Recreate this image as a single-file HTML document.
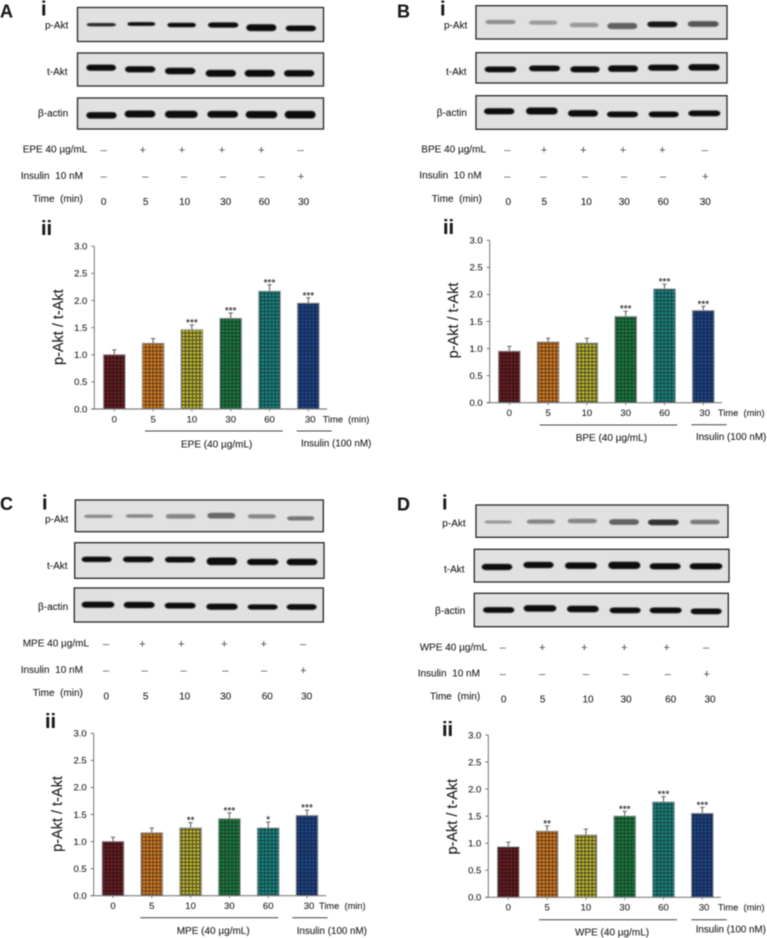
<!DOCTYPE html>
<html lang="en">
<head>
<meta charset="utf-8">
<title>p-Akt / t-Akt western blots and densitometry</title>
<style>
html,body{margin:0;padding:0;background:#fff;}
body{width:767px;height:938px;overflow:hidden;}
svg{display:block;filter:blur(0.4px);}
text{font-family:"Liberation Sans",Arial,sans-serif;fill:#262626;stroke:#262626;stroke-width:0.12;font-size:10px;white-space:pre;}
.letter{font-size:18px;font-weight:bold;fill:#1a1a1a;}
.num{font-size:20px;font-weight:bold;fill:#1a1a1a;}
.m{font-size:11px;fill:#555;stroke:#555;text-anchor:middle;}
.d{font-size:10px;fill:#333;text-anchor:middle;}
.t{text-anchor:middle;}
.tl{font-size:9.3px;}
.blot{fill:#e1e1e1;stroke:#333;stroke-width:1.4;}
.ul{stroke:#444;stroke-width:1;}
</style>
</head>
<body>
<svg id="fig" xmlns="http://www.w3.org/2000/svg" width="767" height="938" viewBox="0 0 767 938">
<defs>
<filter id="soft" x="-20%" y="-60%" width="140%" height="220%"><feGaussianBlur stdDeviation="0.6"/></filter>
<pattern id="hatch-0" width="3.6" height="3.6" patternUnits="userSpaceOnUse"><rect width="3.6" height="3.6" fill="#861a20"/><path d="M1.8 0V3.6M0 1.8H3.6" stroke="#2a181a" stroke-width="1.3"/></pattern>
<pattern id="hatch-1" width="3.6" height="3.6" patternUnits="userSpaceOnUse"><rect width="3.6" height="3.6" fill="#e8841e"/><path d="M1.8 0V3.6M0 1.8H3.6" stroke="#6a4420" stroke-width="1.3"/></pattern>
<pattern id="hatch-2" width="3.6" height="3.6" patternUnits="userSpaceOnUse"><rect width="3.6" height="3.6" fill="#d0ca2a"/><path d="M1.8 0V3.6M0 1.8H3.6" stroke="#55532a" stroke-width="1.3"/></pattern>
<pattern id="hatch-3" width="3.6" height="3.6" patternUnits="userSpaceOnUse"><rect width="3.6" height="3.6" fill="#0e8c3e"/><path d="M1.8 0V3.6M0 1.8H3.6" stroke="#20402e" stroke-width="1.3"/></pattern>
<pattern id="hatch-4" width="3.6" height="3.6" patternUnits="userSpaceOnUse"><rect width="3.6" height="3.6" fill="#0e9684"/><path d="M1.8 0V3.6M0 1.8H3.6" stroke="#1e444c" stroke-width="1.3"/></pattern>
<pattern id="hatch-5" width="3.6" height="3.6" patternUnits="userSpaceOnUse"><rect width="3.6" height="3.6" fill="#164e9e"/><path d="M1.8 0V3.6M0 1.8H3.6" stroke="#1c2848" stroke-width="1.3"/></pattern>
</defs>
<rect width="767" height="938" fill="#fff"/>

<!-- Panel A -->
<g>
<text class="letter" x="0" y="17.3">A</text>
<text class="num" x="41" y="15.7">i</text>
<rect class="blot" x="77.5" y="7.5" width="246" height="34"/>
<rect class="blot" x="77.5" y="53" width="246" height="33"/>
<rect class="blot" x="77.5" y="98" width="246" height="31"/>
<g id="bands-a"></g>
<text x="45" y="28.7">p-Akt</text>
<text x="47" y="75">t-Akt</text>
<text x="38" y="116.7">β-actin</text>
<text x="22.7" y="152.7">EPE 40 µg/mL</text>
<text x="20.7" y="179">Insulin  10 nM</text>
<text x="32.7" y="202">Time  (min)</text>
<g>
<text class="m" x="103.7" y="153.5">–</text><text class="m" x="142.7" y="153.5">+</text><text class="m" x="182" y="153.5">+</text><text class="m" x="222" y="153.5">+</text><text class="m" x="261.3" y="153.5">+</text><text class="m" x="300.7" y="153.5">–</text>
</g>
<g>
<text class="m" x="103.7" y="180">–</text><text class="m" x="145.3" y="180">–</text><text class="m" x="184" y="180">–</text><text class="m" x="223" y="180">–</text><text class="m" x="261.7" y="180">–</text><text class="m" x="301" y="180">+</text>
</g>
<g>
<text class="t" x="103.7" y="205">0</text><text class="t" x="145.7" y="205">5</text><text class="t" x="184.7" y="205">10</text><text class="t" x="225.7" y="205">30</text><text class="t" x="264.3" y="205">60</text><text class="t" x="303.7" y="205">30</text>
</g>
<text class="num" x="41" y="235">ii</text>
</g>

<!-- Panel B -->
<g>
<text class="letter" x="397" y="17.3">B</text>
<text class="num" x="440" y="15.3">i</text>
<rect class="blot" x="476" y="5.7" width="251" height="33.3"/>
<rect class="blot" x="476" y="52.7" width="251" height="30.3"/>
<rect class="blot" x="476" y="95.7" width="251" height="33.6"/>
<g id="bands-b"></g>
<text x="444" y="28.7">p-Akt</text>
<text x="446" y="75">t-Akt</text>
<text x="436.7" y="116">β-actin</text>
<text x="421.3" y="152.7">BPE 40 µg/mL</text>
<text x="419.3" y="178.3">Insulin  10 nM</text>
<text x="431.7" y="202">Time  (min)</text>
<g>
<text class="m" x="507.3" y="153.5">–</text><text class="m" x="544" y="153.5">+</text><text class="m" x="583.3" y="153.5">+</text><text class="m" x="623" y="153.5">+</text><text class="m" x="662.3" y="153.5">+</text><text class="m" x="704.7" y="153.5">–</text>
</g>
<g>
<text class="m" x="507.3" y="180">–</text><text class="m" x="543.3" y="180">–</text><text class="m" x="585" y="180">–</text><text class="m" x="624" y="180">–</text><text class="m" x="663" y="180">–</text><text class="m" x="705.3" y="180">+</text>
</g>
<g>
<text class="t" x="508.3" y="205">0</text><text class="t" x="544.3" y="205">5</text><text class="t" x="586.3" y="205">10</text><text class="t" x="624.3" y="205">30</text><text class="t" x="663.3" y="205">60</text><text class="t" x="705.3" y="205">30</text>
</g>
<text class="num" x="443" y="234">ii</text>
</g>

<!-- Panel C -->
<g>
<text class="letter" x="0" y="510">C</text>
<text class="num" x="42" y="509.3">i</text>
<rect class="blot" x="75.3" y="500" width="248" height="31.7"/>
<rect class="blot" x="74.7" y="542.7" width="249.3" height="35.6"/>
<rect class="blot" x="74.3" y="588" width="249" height="34"/>
<g id="bands-c"></g>
<text x="45" y="522.7">p-Akt</text>
<text x="47" y="569">t-Akt</text>
<text x="38" y="610">β-actin</text>
<text x="22.7" y="646.7">MPE 40 µg/mL</text>
<text x="20.7" y="673">Insulin  10 nM</text>
<text x="32.7" y="696">Time  (min)</text>
<g>
<text class="m" x="106" y="647.5">–</text><text class="m" x="142.3" y="647.5">+</text><text class="m" x="181.3" y="647.5">+</text><text class="m" x="224.3" y="647.5">+</text><text class="m" x="263.7" y="647.5">+</text><text class="m" x="303" y="647.5">–</text>
</g>
<g>
<text class="m" x="106" y="674">–</text><text class="m" x="144.7" y="674">–</text><text class="m" x="183.7" y="674">–</text><text class="m" x="225.3" y="674">–</text><text class="m" x="264" y="674">–</text><text class="m" x="303.3" y="674">+</text>
</g>
<g>
<text class="t" x="106.3" y="699.3">0</text><text class="t" x="145.7" y="699.3">5</text><text class="t" x="184.7" y="699.3">10</text><text class="t" x="225.7" y="699.3">30</text><text class="t" x="267.3" y="699.3">60</text><text class="t" x="306.7" y="699.3">30</text>
</g>
<text class="num" x="45" y="728">ii</text>
</g>

<!-- Panel D -->
<g>
<text class="letter" x="397" y="510.7">D</text>
<text class="num" x="442" y="509.3">i</text>
<rect class="blot" x="476" y="505" width="252" height="32.3"/>
<rect class="blot" x="474.3" y="549.3" width="254.7" height="32.7"/>
<rect class="blot" x="474.3" y="593.3" width="254" height="33.4"/>
<g id="bands-d"></g>
<text x="442.3" y="526.3">p-Akt</text>
<text x="444" y="572.3">t-Akt</text>
<text x="435" y="614">β-actin</text>
<text x="419.7" y="650.3">WPE 40 µg/mL</text>
<text x="417.7" y="676.7">Insulin  10 nM</text>
<text x="430" y="699.7">Time  (min)</text>
<g>
<text class="m" x="502.7" y="651">–</text><text class="m" x="542.3" y="651">+</text><text class="m" x="584.3" y="651">+</text><text class="m" x="624.3" y="651">+</text><text class="m" x="666.7" y="651">+</text><text class="m" x="706" y="651">–</text>
</g>
<g>
<text class="m" x="502.7" y="677.5">–</text><text class="m" x="542" y="677.5">–</text><text class="m" x="586" y="677.5">–</text><text class="m" x="625.7" y="677.5">–</text><text class="m" x="667.7" y="677.5">–</text><text class="m" x="706.7" y="677.5">+</text>
</g>
<g>
<text class="t" x="503.7" y="702.7">0</text><text class="t" x="542.7" y="702.7">5</text><text class="t" x="588" y="702.7">10</text><text class="t" x="626" y="702.7">30</text><text class="t" x="670.7" y="702.7">60</text><text class="t" x="710" y="702.7">30</text>
</g>
<text class="num" x="442" y="736">ii</text>
</g>

<!-- Chart annotations -->
<g>
<line class="ul" x1="145" y1="431" x2="282.7" y2="431"/>
<line class="ul" x1="296.7" y1="431" x2="331.7" y2="431"/>
<text x="181" y="447.3">EPE (40 µg/mL)</text>
<text x="301" y="446.3" style="font-size:9.8px">Insulin (100 nM)</text>
<text class="tl" x="322.7" y="422.3">Time  (min)</text>
</g>
<g>
<line class="ul" x1="539.7" y1="425" x2="677.3" y2="425"/>
<line class="ul" x1="691.3" y1="424.7" x2="726.7" y2="424.7"/>
<text x="575.7" y="441">BPE (40 µg/mL)</text>
<text x="696" y="440" style="font-size:9.8px">Insulin (100 nM)</text>
<text class="tl" x="718" y="416">Time  (min)</text>
</g>
<g>
<line class="ul" x1="140.3" y1="917.7" x2="278.3" y2="917.7"/>
<line class="ul" x1="292.3" y1="917.7" x2="327.7" y2="917.7"/>
<text x="176.7" y="934">MPE (40 µg/mL)</text>
<text x="296.7" y="934" style="font-size:9.8px">Insulin (100 nM)</text>
<text class="tl" x="319" y="909">Time  (min)</text>
</g>
<g>
<line class="ul" x1="539" y1="919.7" x2="677" y2="919.7"/>
<line class="ul" x1="691.3" y1="919.7" x2="726.7" y2="919.7"/>
<text x="575" y="935.7">WPE (40 µg/mL)</text>
<text x="695.7" y="932.3" style="font-size:9.8px">Insulin (100 nM)</text>
<text class="tl" x="718" y="910.7">Time  (min)</text>
</g>
<g id="charts"></g>
</svg>

<script>
// ---- chart data ----
const timeLabels = ["0", "5", "10", "30", "60", "30"];
const yTicks = [0, 0.5, 1.0, 1.5, 2.0, 2.5, 3.0];
const yMax = 3.0;

const epeValues = [1.00, 1.21, 1.46, 1.67, 2.17, 1.95];
const epeErrors = [0.09, 0.09, 0.09, 0.10, 0.12, 0.10];
const epeStars = ["", "", "***", "***", "***", "***"];

const bpeValues = [0.95, 1.12, 1.10, 1.59, 2.10, 1.70];
const bpeErrors = [0.09, 0.07, 0.09, 0.10, 0.09, 0.08];
const bpeStars = ["", "", "", "***", "***", "***"];

const mpeValues = [1.00, 1.16, 1.25, 1.42, 1.25, 1.48];
const mpeErrors = [0.08, 0.09, 0.10, 0.11, 0.11, 0.10];
const mpeStars = ["", "", "**", "***", "*", "***"];

const wpeValues = [0.93, 1.22, 1.15, 1.50, 1.76, 1.55];
const wpeErrors = [0.09, 0.10, 0.11, 0.09, 0.10, 0.11];
const wpeStars = ["", "**", "", "***", "***", "***"];

const NS = "http://www.w3.org/2000/svg";
function mk(parent, tag, attrs, txt) {
  const el = document.createElementNS(NS, tag);
  for (const k in attrs) el.setAttribute(k, attrs[k]);
  if (txt !== undefined) el.textContent = txt;
  parent.appendChild(el);
  return el;
}

// ---- blot bands (coordinates given in 3x crop units relative to panel origin) ----
function band(id, ox, oy, x1, x2, y, h, c) {
  const g = document.getElementById(id);
  const hh = h / 3 * 1.15;
  const pad = 1;
  const el = mk(g, "rect", {
    x: ox + x1 / 3 - pad, y: oy + y / 3 - hh / 2,
    width: (x2 - x1) / 3 + 2 * pad, height: hh,
    rx: 4, ry: hh / 2,
    fill: c, filter: "url(#soft)"
  });
  
  
}
function row(id, ox, oy, c, list) {
  list.forEach(b => band(id, ox, oy, b[0], b[1], b[2], b[3], b[4] || c));
}
row("bands-a", 0, 0, "#101010", [[263,345,74,9,"#2a2a2a"],[385,463,72,10],[505,585,75,12],[627,712,75,14],[742,826,83,18],[860,945,85,15]]);
row("bands-a", 0, 0, "#0c0c0c", [[262,345,203,16],[378,463,208,16],[498,583,213,17],[620,705,220,18],[737,822,220,18],[855,940,220,17]]);
row("bands-a", 0, 0, "#080808", [[262,347,346,17],[377,463,342,18],[498,590,343,19],[625,711,343,18],[740,829,344,19],[857,944,344,20]]);

row("bands-b", 384, 0, "#888", [[307,392,66,11,"#909090"],[438,517,68,11,"#9c9c9c"],[560,641,75,12,"#989898"],[673,757,78,16,"#606060"],[793,877,73,15,"#141414"],[914,1001,72,15,"#565656"]]);
row("bands-b", 384, 0, "#0c0c0c", [[305,394,208,15],[438,525,205,15],[562,644,208,16],[675,759,206,17],[795,881,203,16],[916,1004,202,17]]);
row("bands-b", 384, 0, "#0c0c0c", [[303,388,334,16],[429,518,333,18],[555,639,340,17],[672,759,343,15],[797,881,343,15],[916,1006,340,15]]);

row("bands-c", 0, 490, "#868686", [[255,336,79,8],[380,458,78,9],[500,584,79,12],[625,703,77,15,"#686868"],[746,825,79,11],[864,940,85,11,"#747474"]]);
row("bands-c", 0, 490, "#0c0c0c", [[248,332,208,14],[372,458,208,15],[498,583,209,15],[623,708,214,20],[744,832,216,16],[863,949,216,17]]);
row("bands-c", 0, 490, "#0c0c0c", [[248,340,344,16],[374,461,345,16],[497,584,347,15],[622,710,350,16],[746,830,351,14],[863,947,351,15]]);

row("bands-d", 384, 490, "#848484", [[304,381,96,8,"#989898"],[431,511,95,11],[554,636,93,12],[678,762,96,15,"#646464"],[795,881,97,15,"#333333"],[921,1004,96,12,"#787878"]]);
row("bands-d", 384, 490, "#0c0c0c", [[296,382,231,16],[421,506,225,16],[546,636,227,17],[676,766,226,19],[800,887,229,16],[920,1012,229,16]]);
row("bands-d", 384, 490, "#0c0c0c", [[300,388,360,15],[422,514,355,17],[552,641,357,17],[680,767,361,15],[800,890,361,15],[923,1010,364,15]]);

// ---- charts ----
function drawChart(name, values, errors, stars, g) {
  const root = mk(document.getElementById("charts"), "g", {});
  
  

  const yScale = v => g.y0 - (v / yMax) * (g.y0 - g.y3);
  const xScale = i => g.first + i * g.step;
  const barW = 21.5;

  values.forEach((v, i) => {
    const cx = xScale(i);
    const top = yScale(v);
    const errTop = yScale(v + errors[i]);

    const stem = mk(root, "line", { x1: cx, x2: cx, y1: top, y2: errTop, stroke: "#666", "stroke-width": 1.1 });
    
    

    const cap = mk(root, "line", { x1: cx - 2.2, x2: cx + 2.2, y1: errTop, y2: errTop, stroke: "#666", "stroke-width": 1 });
    
    

    const bar = mk(root, "rect", {
      x: cx - barW / 2, y: top, width: barW, height: g.y0 - top,
      fill: "url(#hatch-" + i + ")", stroke: "#8d8d8d", "stroke-width": 1
    });
    
    

    if (stars[i]) {
      const s = mk(root, "text", { x: cx, y: errTop + 1, "text-anchor": "middle", style: "font-size:10px" }, stars[i]);
      
      
    }

    const tick = mk(root, "line", { x1: cx, x2: cx, y1: g.y0, y2: g.y0 + 2.5, stroke: "#777", "stroke-width": 0.9 });
    
    

    const lx = i === values.length - 1 ? cx + g.lastShift : cx;
    const lab = mk(root, "text", { x: lx, y: g.y0 + 13.3, "text-anchor": "middle", style: "font-size:9.5px" }, timeLabels[i]);
    
    
  });

  const yAxis = mk(root, "line", { x1: g.x0, x2: g.x0, y1: g.y3, y2: g.y0, stroke: "#666", "stroke-width": 0.9 });
  
  

  const xAxis = mk(root, "line", { x1: g.x0 - 3, x2: g.xEnd, y1: g.y0, y2: g.y0, stroke: "#808080", "stroke-width": 1.2 });
  
  

  yTicks.forEach(t => {
    const y = yScale(t);
    const tk = mk(root, "line", { x1: g.x0 - 3, x2: g.x0, y1: y, y2: y, stroke: "#666", "stroke-width": 0.9 });
    
    

    const tl = mk(root, "text", { x: g.x0 - 7, y: y + 3.3, "text-anchor": "end", style: "font-size:9.5px" }, t.toFixed(1));
    
    
  });

  const title = mk(root, "text", {
    transform: "translate(" + g.titleX + "," + ((g.y0 + g.y3) / 2 + g.titleDy) + ") rotate(-90)",
    "text-anchor": "middle", style: "font-size:14.5px;fill:#1c1c1c;stroke:#1c1c1c"
  }, "p-Akt / t-Akt");
  
  
}

drawChart("chart-epe", epeValues, epeErrors, epeStars, { x0: 94.3, xEnd: 327, y0: 409, y3: 246.3, first: 114.3, step: 38.8, lastShift: 2, titleX: 63, titleDy: -0.5 });
drawChart("chart-bpe", bpeValues, bpeErrors, bpeStars, { x0: 489.7, xEnd: 722, y0: 402.7, y3: 240.3, first: 509.3, step: 38.8, lastShift: 1.4, titleX: 458, titleDy: -1 });
drawChart("chart-mpe", mpeValues, mpeErrors, mpeStars, { x0: 93.7, xEnd: 326, y0: 895.7, y3: 733.3, first: 113, step: 38.8, lastShift: 2, titleX: 62, titleDy: -0.5 });
drawChart("chart-wpe", wpeValues, wpeErrors, wpeStars, { x0: 488.3, xEnd: 721, y0: 897.3, y3: 735, first: 508.3, step: 38.8, lastShift: 1.7, titleX: 457, titleDy: 0.5 });
</script>
</body>
</html>
